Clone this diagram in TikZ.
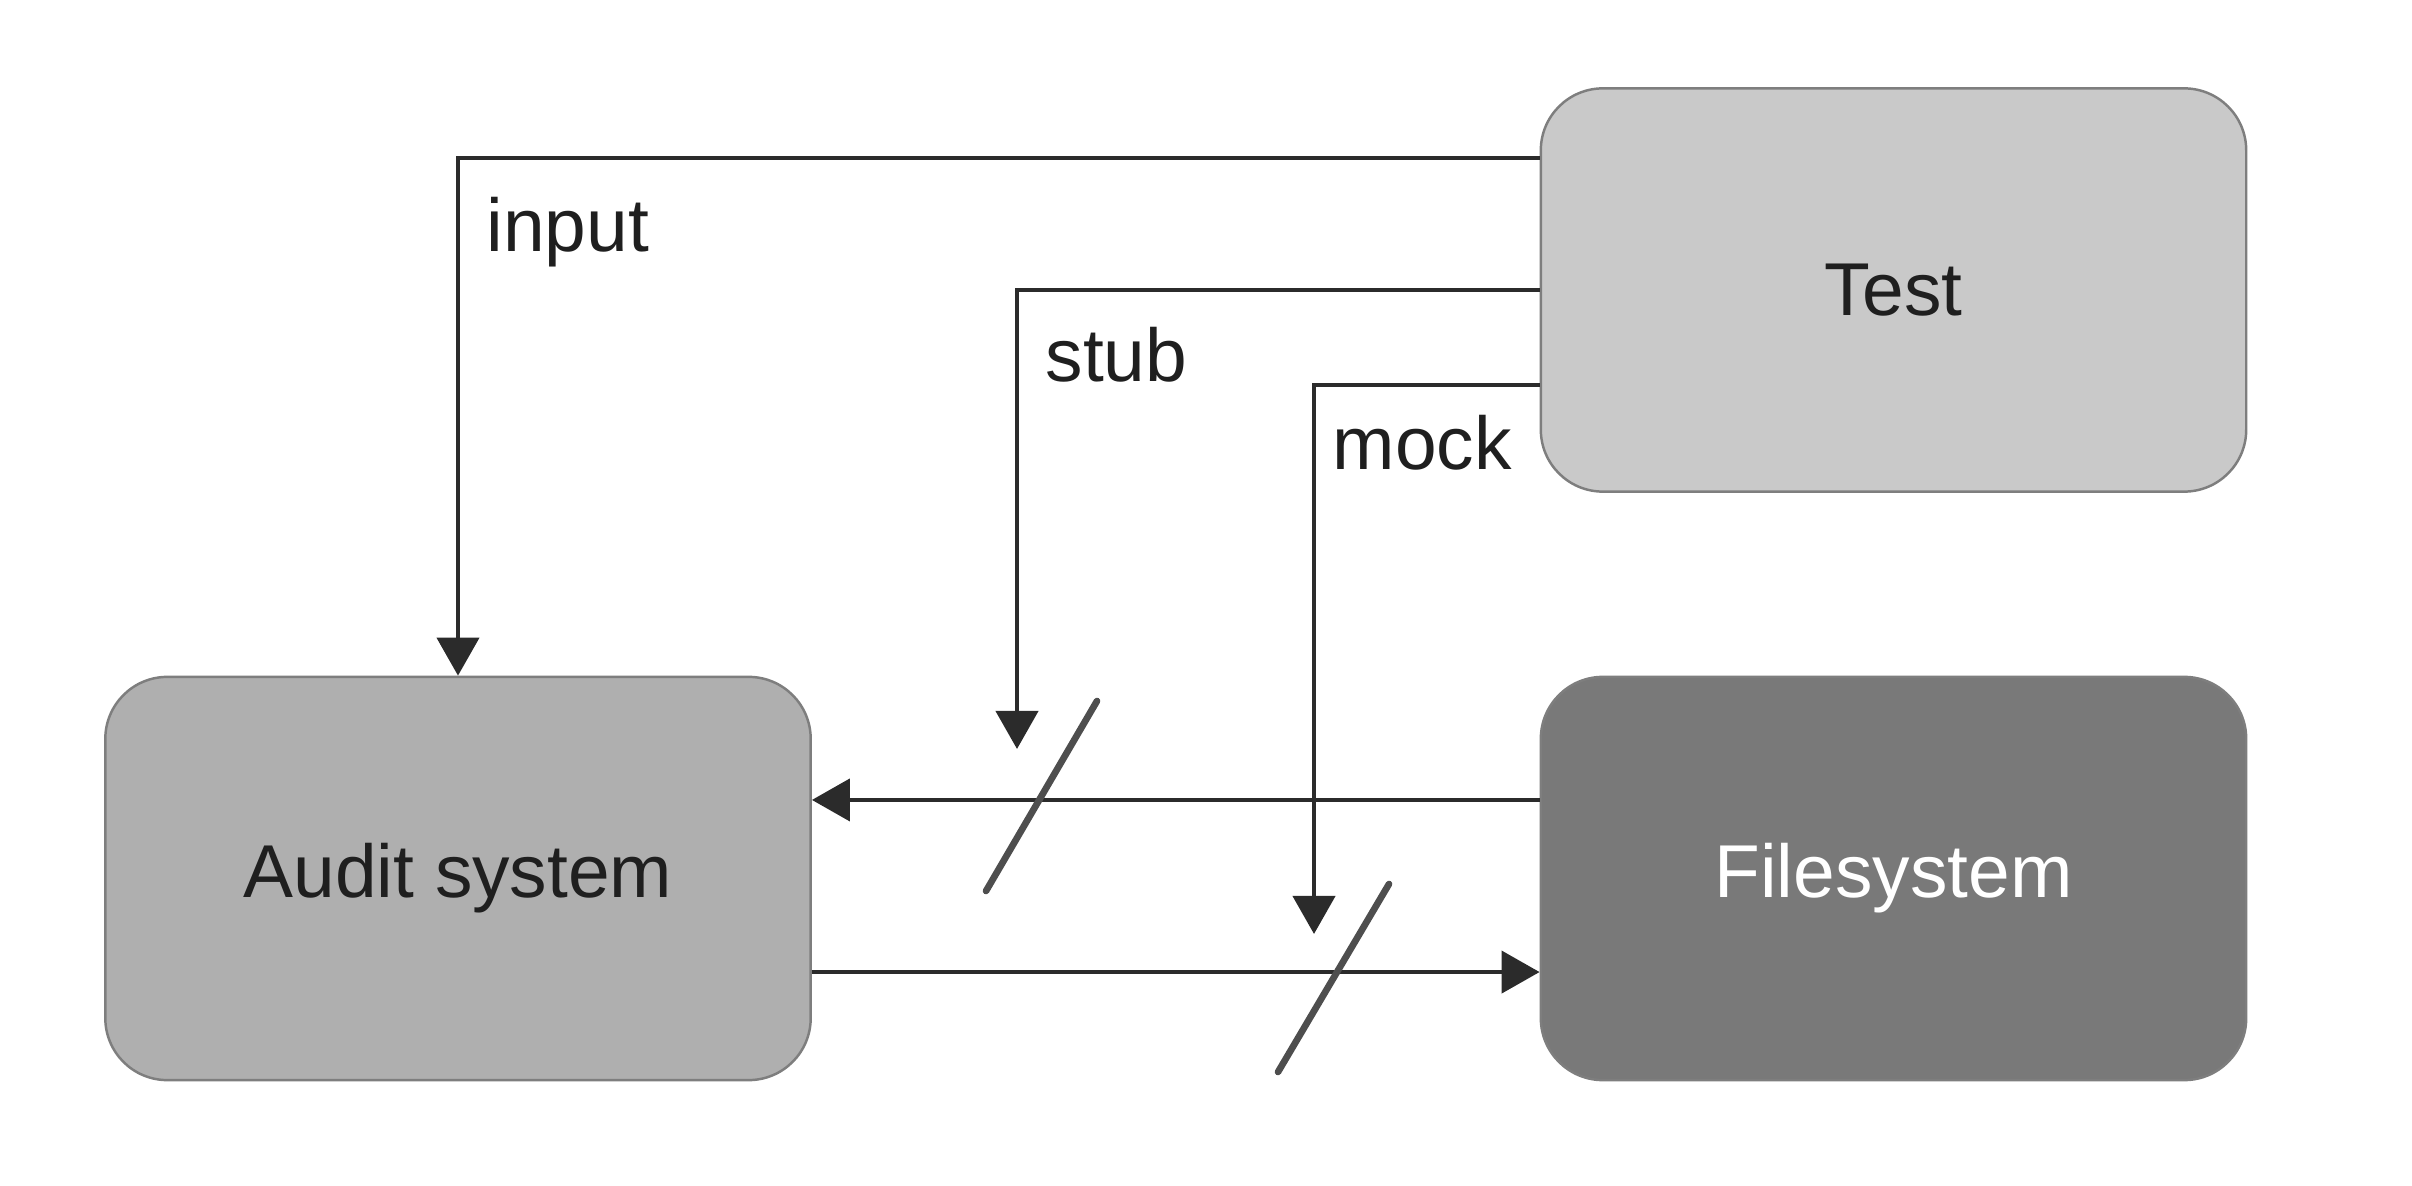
\documentclass[tikz,border=0pt]{standalone}
\usepackage{fontspec}
\setmainfont{Liberation Sans}
\usetikzlibrary{arrows.meta}

\definecolor{testgray}{HTML}{C9C9C9}
\definecolor{auditgray}{HTML}{AFAFAF}
\definecolor{fsgray}{HTML}{797979}
\definecolor{edgegray}{HTML}{7E7E7E}
\definecolor{linegray}{HTML}{2B2B2B}
\definecolor{slashgray}{HTML}{4E4E4E}

\tikzset{
	box/.style={draw=edgegray, line width=0.7pt, rounded corners=0.62cm,
		minimum width=7.05cm, minimum height=4.03cm,
		font=\fontsize{21.3}{25}\selectfont, text=black!88},
	wire/.style={draw=linegray, line width=1.2pt,
		-{Triangle[width=0.42cm,length=0.38cm]}},
	slash/.style={draw=slashgray, line width=1.9pt, line cap=round},
	lbl/.style={font=\fontsize{21.3}{25}\selectfont, text=black!88, anchor=west, inner sep=0pt}
}

\begin{document}
\begin{tikzpicture}[x=0.01cm, y=-0.01cm]
		%%%%% START %%%%%
		\useasboundingbox (0, 0) rectangle (2412, 1186);
		
		\node[box, fill=testgray] (test) at (1893.5, 290) {Test};
		\node[box, fill=auditgray] (audit) at (458, 878.5) {Audit system};
		\node[box, fill=fsgray, text=white] (fs) at (1893.5, 878.5) {Filesystem};
		
		% ends of the stub and mock arrows
		\coordinate (stubtip) at (1017, 749);
		\coordinate (mocktip) at (1314, 934);
		
		\draw[wire] ([yshift=1.32cm]test.west) -| (audit.north);
		\draw[wire] (test.west) -| (stubtip);
		\draw[wire] ([yshift=-0.95cm]test.west) -| (mocktip);
		
		\draw[wire] ([yshift=0.785cm]fs.west) -- ([yshift=0.785cm]audit.east);
		\draw[wire] ([yshift=-0.935cm]audit.east) -- ([yshift=-0.935cm]fs.west);
		
		\draw[slash] (986, 891) -- (1097, 701);
		\draw[slash] (1278, 1072) -- (1389, 884);
		
		\node[lbl] (input) at (486, 232) {input};
		\node[lbl] (stub) at (1045, 355) {stub};
		\node[lbl] (mock) at (1332, 443) {mock};
		%%%%% END %%%%%
\end{tikzpicture}
\end{document}
